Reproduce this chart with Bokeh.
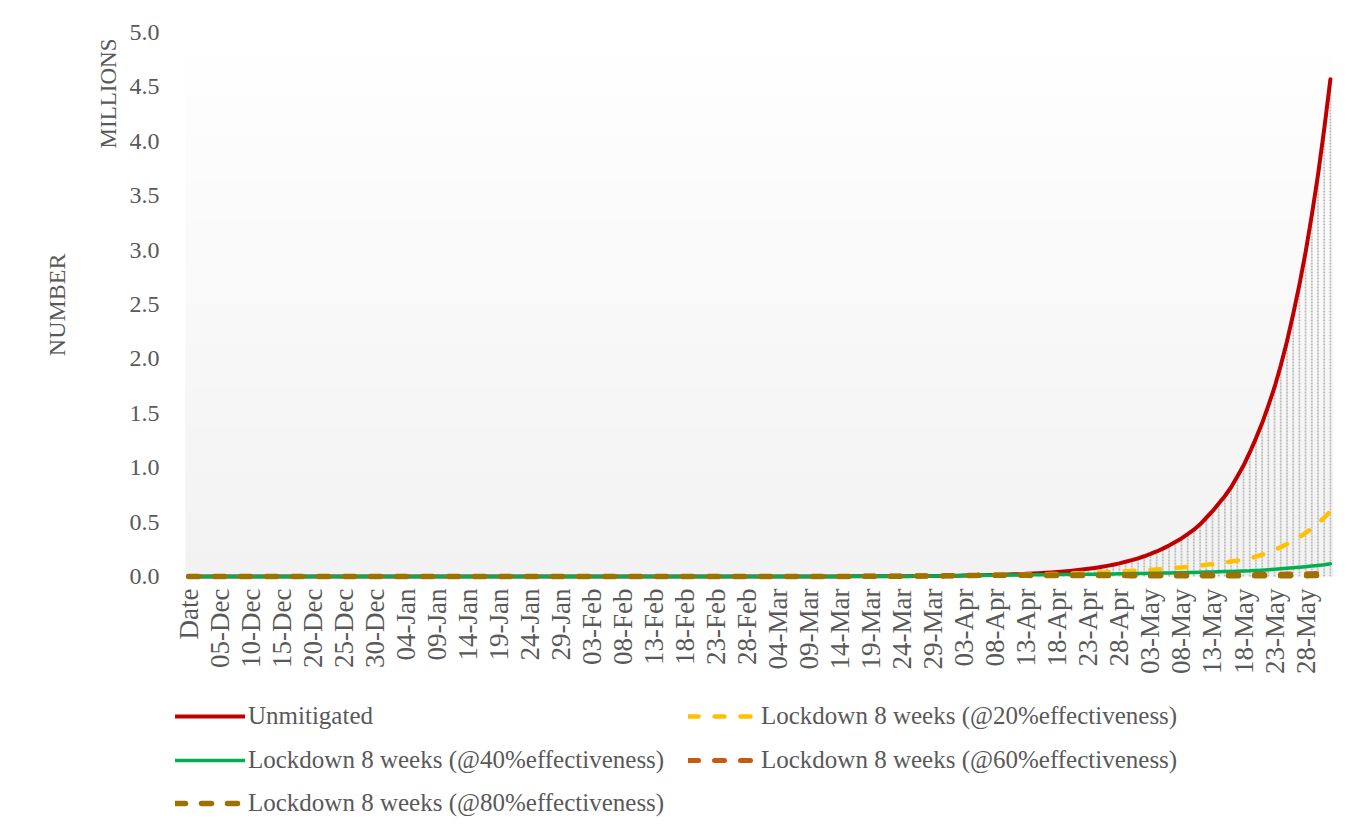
import numpy as np
import pandas as pd
from bokeh.plotting import figure
from bokeh.models import (Range1d, FixedTicker, Legend, LegendItem, Title,
                          NumeralTickFormatter, ColumnDataSource)
from bokeh.embed import file_html
from bokeh.resources import INLINE

# ---------------- data (millions) ----------------
categories = ["Date"] + list(pd.date_range("2019-12-01", "2020-06-01", freq="D").strftime("%d-%b"))

# common part of all scenarios: "Date" .. 06-Apr (index 0..127)
common_until_06apr = [
    0.0, 0.0, 0.0, 0.0, 0.0, 0.0, 0.0, 0.0, 0.0, 0.0,
    0.0, 0.0, 0.0, 0.0, 0.0, 0.0, 0.0, 0.0, 0.0, 0.0,
    0.0, 0.0, 0.0, 0.0, 0.0, 0.0, 0.0, 0.0, 0.0, 0.0,
    0.0, 0.0, 0.0, 0.0, 0.0, 0.0, 0.0, 0.0, 0.0, 0.0,
    0.0, 0.0, 0.0, 0.0, 0.0, 0.0, 0.0, 0.0, 0.0, 0.0,
    0.0, 0.0, 0.0, 0.0, 0.0, 0.0, 0.0, 0.0, 0.0, 0.0,
    0.0, 0.0, 0.0, 0.0, 0.0, 0.0, 0.0, 0.0, 0.0, 0.0,
    0.0, 0.0, 0.0, 0.0, 0.0, 0.0, 0.0, 0.0, 0.0, 0.0,
    0.0001, 0.0001, 0.0001, 0.0001, 0.0001, 0.0001, 0.0001, 0.0002, 0.0002, 0.0002,
    0.0002, 0.0002, 0.0003, 0.0003, 0.0003, 0.0003, 0.0004, 0.0004, 0.0005, 0.0005,
    0.0006, 0.0006, 0.0007, 0.0008, 0.0009, 0.0010, 0.0011, 0.0012, 0.0013, 0.0015,
    0.0017, 0.0018, 0.0020, 0.0023, 0.0025, 0.0028, 0.0032, 0.0035, 0.0039, 0.0044,
    0.0049, 0.0054, 0.0060, 0.0067, 0.0075, 0.0083, 0.0093, 0.0103,
]

# 07-Apr .. 01-Jun (index 128..184)
unmitigated_tail = [
    0.0115, 0.0128, 0.0142, 0.0158, 0.0176, 0.0196, 0.0218, 0.0243, 0.0270, 0.0301,
    0.0335, 0.0373, 0.0415, 0.0462, 0.0514, 0.0572, 0.0637, 0.0709, 0.0789, 0.0878,
    0.0977, 0.1088, 0.121, 0.135, 0.150, 0.167, 0.186, 0.207, 0.230, 0.256,
    0.285, 0.317, 0.35, 0.39, 0.43, 0.48, 0.54, 0.60, 0.67, 0.74,
    0.82, 0.92, 1.02, 1.14, 1.27, 1.41, 1.57, 1.74, 1.94, 2.16,
    2.41, 2.68, 2.98, 3.32, 3.69, 4.11, 4.57,
]
lockdown20_tail = [
    0.0115, 0.0122, 0.0130, 0.0138, 0.0147, 0.0157, 0.0167, 0.0177, 0.0189, 0.0201,
    0.0214, 0.0227, 0.0242, 0.0257, 0.0274, 0.0291, 0.0310, 0.0330, 0.0351, 0.0373,
    0.0397, 0.0422, 0.0449, 0.0478, 0.0509, 0.0541, 0.0576, 0.0612, 0.0652, 0.0693,
    0.0738, 0.0785, 0.0835, 0.0888, 0.0945, 0.1005, 0.107, 0.114, 0.121, 0.129,
    0.137, 0.146, 0.155, 0.165, 0.182, 0.201, 0.222, 0.245, 0.270, 0.298,
    0.329, 0.363, 0.400, 0.44, 0.49, 0.54, 0.60,
]
lockdown40_tail = [
    0.0115, 0.0119, 0.0123, 0.0127, 0.0132, 0.0137, 0.0142, 0.0147, 0.0152, 0.0157,
    0.0163, 0.0169, 0.0175, 0.0181, 0.0188, 0.0194, 0.0201, 0.0208, 0.0216, 0.0223,
    0.0231, 0.0240, 0.0248, 0.0257, 0.0266, 0.0276, 0.0286, 0.0296, 0.0306, 0.0317,
    0.0329, 0.0340, 0.0352, 0.0365, 0.0378, 0.0391, 0.0405, 0.0420, 0.0435, 0.0450,
    0.0466, 0.0483, 0.0500, 0.0518, 0.0550, 0.0585, 0.0622, 0.0662, 0.0704, 0.0749,
    0.0797, 0.0848, 0.0902, 0.0960, 0.1021, 0.1086, 0.1170,
]
lockdown60_tail = [
    0.0115, 0.0116, 0.0117, 0.0118, 0.0120, 0.0121, 0.0122, 0.0123, 0.0124, 0.0125,
    0.0127, 0.0128, 0.0129, 0.0130, 0.0132, 0.0133, 0.0134, 0.0136, 0.0137, 0.0138,
    0.0140, 0.0141, 0.0143, 0.0144, 0.0146, 0.0147, 0.0148, 0.0150, 0.0151, 0.0153,
    0.0154, 0.0156, 0.0158, 0.0159, 0.0161, 0.0162, 0.0164, 0.0166, 0.0167, 0.0169,
    0.0171, 0.0172, 0.0174, 0.0176, 0.0183, 0.0191, 0.0199, 0.0207, 0.0216, 0.0225,
    0.0234, 0.0244, 0.0254, 0.0264, 0.0275, 0.0287, 0.0299,
]
lockdown80_tail = [
    0.0115, 0.0113, 0.0111, 0.0110, 0.0108, 0.0107, 0.0105, 0.0104, 0.0102, 0.0101,
    0.0099, 0.0098, 0.0096, 0.0095, 0.0093, 0.0092, 0.0091, 0.0089, 0.0088, 0.0087,
    0.0085, 0.0084, 0.0083, 0.0082, 0.0080, 0.0079, 0.0078, 0.0077, 0.0076, 0.0075,
    0.0073, 0.0072, 0.0071, 0.0070, 0.0069, 0.0068, 0.0067, 0.0066, 0.0065, 0.0064,
    0.0063, 0.0062, 0.0061, 0.0060, 0.0062, 0.0064, 0.0066, 0.0068, 0.0070, 0.0072,
    0.0074, 0.0076, 0.0079, 0.0081, 0.0084, 0.0086, 0.0089,
]

series_names = [
    "Unmitigated",
    "Lockdown 8 weeks (@20%effectiveness)",
    "Lockdown 8 weeks (@40%effectiveness)",
    "Lockdown 8 weeks (@60%effectiveness)",
    "Lockdown 8 weeks (@80%effectiveness)",
]
y_ticks = [0.0, 0.5, 1.0, 1.5, 2.0, 2.5, 3.0, 3.5, 4.0, 4.5, 5.0]
x_label_step = 5

# ---------------- build ----------------
n = len(categories)
x = list(range(n))
tails = [unmitigated_tail, lockdown20_tail, lockdown40_tail, lockdown60_tail, lockdown80_tail]
data = dict(x=x, zero=[0.0] * n)
for i, t in enumerate(tails):
    data[f"s{i}"] = common_until_06apr + t
src = ColumnDataSource(data)

label_idx = list(range(0, n, x_label_step))
lab_src = ColumnDataSource(dict(x=label_idx, y=[0.0] * len(label_idx),
                                text=[categories[i] for i in label_idx]))

FONT = "Liberation Serif"
GREY = "#595959"

# layout geometry (pixels)
W, H = 1345, 831
LEFT, RIGHT, TOP = 175, 12, 32
PLOT_LEFT_PX = 10           # category area starts 10px right of the frame (legend sits there)
ZERO_PX = 576               # y=0 baseline
frame_w = W - LEFT - RIGHT
px_per_cat = (frame_w - PLOT_LEFT_PX) / n
x_start = -0.5 - PLOT_LEFT_PX / px_per_cat
px_per_unit = (ZERO_PX - TOP) / y_ticks[-1]
y_start = -(H - ZERO_PX) / px_per_unit

p = figure(width=W, height=H, output_backend="svg", toolbar_location=None,
           x_range=Range1d(x_start, n - 0.5), y_range=Range1d(y_start, y_ticks[-1]),
           x_axis_location=None,
           min_border_left=LEFT, min_border_right=RIGHT, min_border_top=TOP, min_border_bottom=0,
           outline_line_color=None, background_fill_color="white", border_fill_color="white")
p.xgrid.visible = False
p.ygrid.visible = False

# plot-area gradient (white at top -> light grey at bottom)
ny = 120
img = np.empty((ny, 1), dtype=np.uint32)
view = img.view(dtype=np.uint8).reshape((ny, 1, 4))
for j in range(ny):
    g = int(round(242 + (255 - 242) * j / (ny - 1)))
    view[j, 0, :] = [g, g, g, 255]
p.image_rgba(image=[img], x=-0.5, y=0, dw=n, dh=y_ticks[-1])

# drop lines
p.segment(x0="x", y0="zero", x1="x", y1="s0", source=src, line_color="#bcbcbc",
          line_width=1.8, line_dash="2 1")

colors = ["#C00000", "#FFC000", "#00B050", "#C55A11", "#9C7300"]
widths = [4, 4.5, 3.5, 5, 5.5]
dashes = ["solid", "10 16", "solid", "10 16", "10 16"]
renderers = []
for i, name in enumerate(series_names):
    r = p.line(x="x", y=f"s{i}", source=src, line_color=colors[i], line_width=widths[i],
               line_dash=dashes[i], line_cap="round", line_join="round")
    renderers.append(r)

# category labels (every 5th), rotated, hanging below the baseline
p.text(x="x", y="y", text="text", source=lab_src, angle=np.pi / 2, text_align="right",
       text_baseline="middle", y_offset=12, text_font="Liberation Serif",
       text_font_size="27px", text_color=GREY)

# y axis
ya = p.yaxis[0]
ya.ticker = FixedTicker(ticks=y_ticks)
ya.formatter = NumeralTickFormatter(format="0.0")
ya.major_tick_line_color = None
ya.minor_tick_line_color = None
ya.axis_line_color = None
ya.major_label_standoff = 10
ya.major_label_text_font = FONT
ya.major_label_text_font_size = "24px"
ya.major_label_text_color = GREY

p.add_layout(Title(text="MILLIONS", align="right", offset=6, text_font=FONT, text_font_size="23px",
                   text_font_style="normal", text_color=GREY, standoff=12), "left")
p.add_layout(Title(text="NUMBER", align="right", offset=221, text_font=FONT, text_font_size="24px",
                   text_font_style="normal", text_color=GREY, standoff=36), "left")

# legend: three rows, two aligned columns, under the category labels
rows = [[0, 1], [2, 3], [4]]
row_bottoms = [93, 49, 6]
for row, vy in zip(rows, row_bottoms):
    lg = Legend(items=[LegendItem(label=series_names[k], renderers=[renderers[k]]) for k in row],
                orientation="horizontal", location=(0, vy),
                label_text_font=FONT, label_text_font_size="25px", label_text_color=GREY,
                glyph_width=70, glyph_height=44, label_width=440, spacing=0, label_standoff=3,
                padding=0, margin=0, border_line_color=None, background_fill_alpha=0)
    p.add_layout(lg, "center")

open("out.html", "w").write(file_html(p, INLINE))
